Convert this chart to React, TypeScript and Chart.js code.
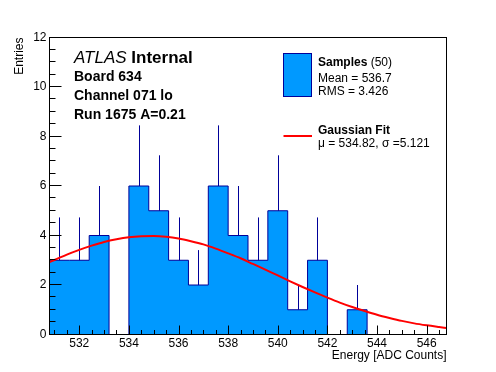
import React, { useEffect, useRef } from "react";
import { Chart, registerables } from "chart.js";

Chart.register(...registerables);

// ---- data ----
const binLow = 530.8;
const binWidth = 0.8;
const counts = [3, 3, 4, 0, 6, 5, 3, 2, 6, 4, 3, 5, 1, 3, 0, 1, 0, 0, 0, 0];
const errors = [1.73, 1.73, 2, 0, 2.45, 2.24, 1.73, 1.41, 2.45, 2, 1.73, 2.24, 1, 1.73, 0, 1, 0, 0, 0, 0];
const fitX = [530.8, 531, 531.5, 532, 532.5, 533, 533.5, 534, 534.5, 535, 535.5, 536, 536.5, 537, 537.5, 538, 538.5, 539, 539.5, 540, 540.5, 541, 541.5, 542, 542.5, 543, 543.5, 544, 544.5, 545, 545.5, 546, 546.5, 546.8];
const fitY = [2.93, 3.01, 3.23, 3.42, 3.59, 3.74, 3.85, 3.93, 3.97, 3.98, 3.95, 3.88, 3.77, 3.64, 3.47, 3.28, 3.08, 2.85, 2.62, 2.39, 2.15, 1.92, 1.70, 1.49, 1.29, 1.11, 0.95, 0.80, 0.67, 0.55, 0.45, 0.37, 0.30, 0.26];
const xTicks = [532, 534, 536, 538, 540, 542, 544, 546];
const yTicks = [0, 2, 4, 6, 8, 10, 12];
const xMin = 530.8;
const xMax = 546.8;
const yMin = 0;
const yMax = 12;
const xMinorStep = 0.5;
const yMinorStep = 0.5;

const infoLines = ["Board 634", "Channel 071 lo", "Run 1675 A=0.21"];
const legendSamples = { title: "Samples", count: "(50)", mean: "Mean = 536.7", rms: "RMS = 3.426" };
const legendFit = { title: "Gaussian Fit", params: "\u03BC = 534.82, \u03C3 =5.121" };

// ---- styles ----
const FONT = '"Liberation Sans", Arial, Helvetica, sans-serif';
const FILL = "#0099ff";
const EDGE = "#000099";
const RED = "#ff0000";

const decorPlugin = {
  id: "decor",
  afterDatasetDraw(chart: any, args: any) {
    if (args.index !== 1) return;
    const { ctx, chartArea } = chart;
    const xs = chart.scales.x;
    const ys = chart.scales.y;
    ctx.save();
    ctx.beginPath();
    ctx.rect(chartArea.left, chartArea.top, chartArea.right - chartArea.left, chartArea.bottom - chartArea.top);
    ctx.clip();
    ctx.strokeStyle = EDGE;
    ctx.lineWidth = 1;
    counts.forEach((c, i) => {
      if (!errors[i]) return;
      const cx = Math.round(xs.getPixelForValue(binLow + (i + 0.5) * binWidth)) + 0.5;
      ctx.beginPath();
      ctx.moveTo(cx, ys.getPixelForValue(c));
      ctx.lineTo(cx, ys.getPixelForValue(c + errors[i]));
      ctx.stroke();
    });
    ctx.restore();
  },
  afterDraw(chart: any) {
    const { ctx, chartArea } = chart;
    const xs = chart.scales.x;
    const ys = chart.scales.y;
    const L = Math.round(chartArea.left) - 0.5;
    const R = Math.round(chartArea.right) - 0.5;
    const T = Math.round(chartArea.top) - 0.5;
    const B = Math.round(chartArea.bottom) - 0.5;
    ctx.save();
    ctx.strokeStyle = "#000";
    ctx.lineWidth = 1;
    ctx.strokeRect(L, T, R - L, B - T);
    ctx.beginPath();
    for (let v = Math.ceil(xMin / xMinorStep) * xMinorStep; v <= xMax + 1e-9; v += xMinorStep) {
      const px = Math.round(xs.getPixelForValue(v)) + 0.5;
      const major = xTicks.some((t) => Math.abs(t - v) < 1e-6);
      ctx.moveTo(px, B);
      ctx.lineTo(px, B - (major ? 9 : 4.5));
    }
    for (let v = Math.ceil(yMin / yMinorStep) * yMinorStep; v <= yMax + 1e-9; v += yMinorStep) {
      const py = Math.round(ys.getPixelForValue(v)) - 0.5;
      const major = yTicks.some((t) => Math.abs(t - v) < 1e-6);
      ctx.moveTo(L, py);
      ctx.lineTo(L + (major ? 12 : 6), py);
    }
    ctx.stroke();

    ctx.fillStyle = "#000";
    ctx.textBaseline = "alphabetic";
    ctx.textAlign = "left";
    ctx.font = `italic 17px ${FONT}`;
    ctx.fillText("ATLAS", 74, 63);
    const wA = ctx.measureText("ATLAS ").width;
    ctx.font = `bold 17px ${FONT}`;
    ctx.fillText("Internal", 74 + wA, 63);
    ctx.font = `bold 14px ${FONT}`;
    const ys0 = [81, 100, 119];
    infoLines.forEach((t, i) => ctx.fillText(t, 74, ys0[i]));

    ctx.fillStyle = FILL;
    ctx.fillRect(283.5, 53.5, 28, 43);
    ctx.strokeStyle = EDGE;
    ctx.strokeRect(283.5, 53.5, 28, 43);
    ctx.fillStyle = "#000";
    ctx.font = `bold 12px ${FONT}`;
    ctx.fillText(legendSamples.title, 318, 65.5);
    const wS = ctx.measureText(legendSamples.title + " ").width;
    ctx.font = `12px ${FONT}`;
    ctx.fillText(legendSamples.count, 318 + wS, 65.5);
    ctx.fillText(legendSamples.mean, 318, 81.5);
    ctx.fillText(legendSamples.rms, 318, 94.5);
    ctx.font = `bold 12px ${FONT}`;
    ctx.fillText(legendFit.title, 318, 133.5);
    ctx.font = `12px ${FONT}`;
    ctx.fillText(legendFit.params, 318, 147);
    ctx.strokeStyle = RED;
    ctx.lineWidth = 2;
    ctx.beginPath();
    ctx.moveTo(283.5, 136);
    ctx.lineTo(312, 136);
    ctx.stroke();
    ctx.restore();
  },
};

export default function App() {
  const ref = useRef<HTMLCanvasElement | null>(null);
  useEffect(() => {
    if (!ref.current) return;
    const histData = counts.map((c, i) => ({ x: binLow + i * binWidth, y: c }));
    histData.push({ x: binLow + counts.length * binWidth, y: 0 });
    const fitData = fitX.map((x, i) => ({ x, y: fitY[i] }));
    const chart = new Chart(ref.current, {
      type: "line",
      data: {
        datasets: [
          {
            label: "Gaussian Fit",
            data: fitData,
            borderColor: RED,
            borderWidth: 2,
            pointRadius: 0,
            cubicInterpolationMode: "monotone",
            fill: false,
            order: 0,
          } as any,
          {
            label: "Samples",
            data: histData,
            borderColor: EDGE,
            borderWidth: 1,
            backgroundColor: FILL,
            pointRadius: 0,
            stepped: "before",
            fill: "origin",
            order: 1,
          } as any,
        ],
      },
      options: {
        animation: false,
        responsive: false,
        devicePixelRatio: 1,
        events: [],
        layout: { padding: { top: 37.5, right: 49.5, bottom: 0, left: 0 } },
        plugins: { legend: { display: false }, tooltip: { enabled: false } },
        scales: {
          x: {
            type: "linear",
            min: xMin,
            max: xMax,
            grid: { display: false, drawTicks: false, tickLength: 0 },
            border: { display: false },
            afterBuildTicks: (s: any) => {
              s.ticks = xTicks.map((v) => ({ value: v }));
            },
            afterFit: (s: any) => {
              s.height = 37.5;
            },
            ticks: {
              color: "#000",
              font: { family: FONT, size: 12 },
              padding: 2,
              maxRotation: 0,
              autoSkip: false,
              callback: (v: any) => String(v),
            },
            title: {
              display: true,
              text: "Energy [ADC Counts]",
              align: "end",
              color: "#000",
              font: { family: FONT, size: 12 },
              padding: { top: 0, bottom: 9 },
            },
          },
          y: {
            type: "linear",
            min: yMin,
            max: yMax,
            grid: { display: false, drawTicks: false, tickLength: 0 },
            border: { display: false },
            afterBuildTicks: (s: any) => {
              s.ticks = yTicks.map((v) => ({ value: v }));
            },
            afterFit: (s: any) => {
              s.width = 49.5;
            },
            ticks: {
              color: "#000",
              font: { family: FONT, size: 12 },
              padding: 3,
              autoSkip: false,
              callback: (v: any) => String(v),
            },
            title: {
              display: true,
              text: "Entries",
              align: "end",
              color: "#000",
              font: { family: FONT, size: 12 },
              padding: { top: 12, bottom: 0 },
            },
          },
        },
      },
      plugins: [decorPlugin],
    } as any);
    return () => chart.destroy();
  }, []);
  return (
    <div style={{ position: "absolute", left: 0, top: 0, width: 496, height: 372, background: "#fff" }}>
      <canvas ref={ref} width={496} height={372} style={{ display: "block" }} />
    </div>
  );
}
